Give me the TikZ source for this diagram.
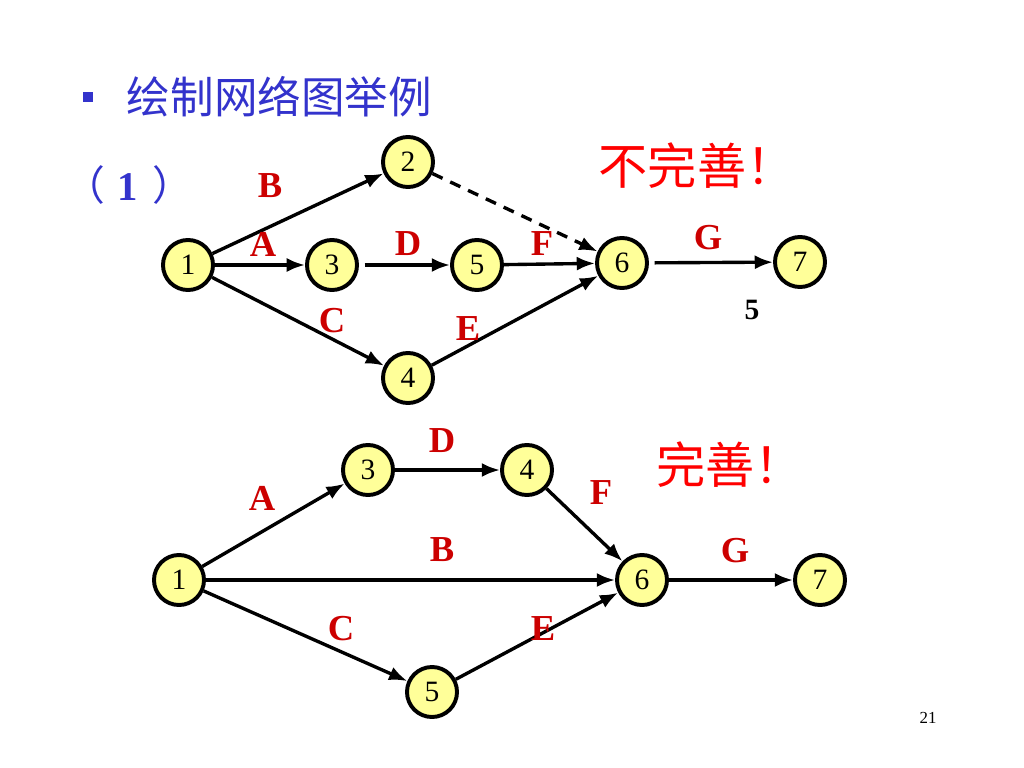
\documentclass[tikz,border=0pt]{standalone}
\usepackage{fontspec}
\setmainfont{Liberation Serif}
\newfontfamily\cjk{Noto Sans CJK SC}
\usepackage{xcolor}
\usetikzlibrary{arrows.meta, positioning}
\definecolor{titleblue}{RGB}{51,51,204}
\definecolor{actred}{RGB}{204,0,0}
\definecolor{notered}{RGB}{255,0,0}
\definecolor{eventfill}{RGB}{255,255,153}
\tikzset{
  event/.style={circle, draw, line width=2.8pt, fill=eventfill, minimum size=1.25cm,
    inner sep=0pt, font=\fontsize{21}{21}\selectfont},
  act/.style={line width=2.4pt, -{Latex[length=13pt,width=10pt]}},
  actlabel/.style={text=actred, font=\bfseries\fontsize{26}{26}\selectfont},
  note/.style={text=notered, font=\cjk\fontsize{35}{35}\selectfont}
}

\begin{document}
\begin{tikzpicture}[x=0.025cm, y=-0.025cm]
\useasboundingbox (0,0) rectangle (1024,768);

% title
\fill[titleblue] (83,92) rectangle (93,102);
\node[text=titleblue, font=\cjk\fontsize{31}{31}\selectfont, anchor=west] (title) at (122,97) {绘制网络图举例};
\node[text=titleblue, font=\bfseries\fontsize{29}{29}\selectfont] (case) at (129,185) {{\cjk\mdseries（}\hspace{0.3em}1\hspace{0.35em}{\cjk\mdseries）}};

% first network
\foreach \n/\x/\y in {1/188/265, 2/408/162, 3/332/265, 4/408/378, 5/477/265, 6/622/263, 7/800/262} {
  \node[event] (t\n) at (\x,\y) {\n};
}
\draw[act] (t1) -- (t2);
\draw[act] (t1) -- (t3);
\draw[act] (t1) -- (t4);
\draw[act, shorten <=4pt] (t3) -- (t5);
\draw[act] (t5) -- (t6);
\draw[act] (t4) -- (t6);
\draw[act, dashed, dash pattern=on 8pt off 6pt] (t2) -- (t6);
\draw[act, shorten <=4pt] (t6) -- (t7);

\node[actlabel] (tB) at (270,186) {B};
\node[actlabel] (tA) at (263,244) {A};
\node[actlabel] (tD) at (408,244) {D};
\node[actlabel] (tF) at (542,244) {F};
\node[actlabel] (tG) at (708,238) {G};
\node[actlabel] (tC) at (332,321) {C};
\node[actlabel] (tE) at (468,329) {E};
\node[font=\bfseries\fontsize{21}{21}\selectfont] (dur) at (752,310) {5};
\node[note] (bad) at (697,166) {不完善！};

% second network
\foreach \n/\x/\y in {1/179/580, 3/368/470, 4/527/470, 5/432/692, 6/642/580, 7/820/580} {
  \node[event] (b\n) at (\x,\y) {\n};
}
\draw[act] (b1) -- (b3);
\draw[act] (b1) -- (b6);
\draw[act] (b1) -- (b5);
\draw[act] (b3) -- (b4);
\draw[act] (b4) -- (b6);
\draw[act] (b5) -- (b6);
\draw[act] (b6) -- (b7);

\node[actlabel] (bD) at (442,441) {D};
\node[actlabel] (bA) at (262,498) {A};
\node[actlabel] (bF) at (601,493) {F};
\node[actlabel] (bB) at (442,550) {B};
\node[actlabel] (bG) at (735,551) {G};
\node[actlabel] (bC) at (341,629) {C};
\node[actlabel] (bE) at (543,629) {E};
\node[note] (good) at (730,465) {完善！};

\node[font=\fontsize{12}{12}\selectfont] (page) at (928,718) {21};
\end{tikzpicture}
\end{document}
